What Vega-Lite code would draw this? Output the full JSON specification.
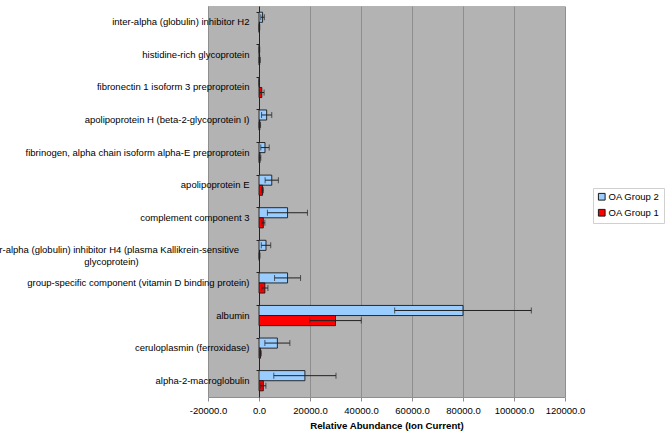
{
  "$schema": "https://vega.github.io/schema/vega-lite/v6.json",
  "width": 357,
  "height": 391,
  "autosize": {"type": "none"},
  "padding": {"left": 208, "top": 6, "right": 104, "bottom": 47},
  "background": "white",
  "config": {
    "font": "Liberation Sans",
    "view": {"fill": "#b3b3b3", "stroke": null},
    "axis": {"labelFont": "Liberation Sans", "titleFont": "Liberation Sans", "labelColor": "#000", "titleColor": "#000"}
  },
  "data": {
    "values": [
      {"protein": "inter-alpha (globulin) inhibitor H2", "group": "OA Group 2", "value": 1400, "lo": 700, "hi": 2100},
      {"protein": "inter-alpha (globulin) inhibitor H2", "group": "OA Group 1", "value": 100, "lo": 0, "hi": 300},
      {"protein": "histidine-rich glycoprotein", "group": "OA Group 2", "value": 150, "lo": 0, "hi": 300},
      {"protein": "histidine-rich glycoprotein", "group": "OA Group 1", "value": 250, "lo": 0, "hi": 500},
      {"protein": "fibronectin 1 isoform 3 preproprotein", "group": "OA Group 2", "value": 100, "lo": 0, "hi": 200},
      {"protein": "fibronectin 1 isoform 3 preproprotein", "group": "OA Group 1", "value": 1100, "lo": 300, "hi": 2000},
      {"protein": "apolipoprotein H (beta-2-glycoprotein I)", "group": "OA Group 2", "value": 3000, "lo": 1000, "hi": 5000},
      {"protein": "apolipoprotein H (beta-2-glycoprotein I)", "group": "OA Group 1", "value": 300, "lo": 0, "hi": 600},
      {"protein": "fibrinogen, alpha chain isoform alpha-E preproprotein", "group": "OA Group 2", "value": 2350, "lo": 700, "hi": 4000},
      {"protein": "fibrinogen, alpha chain isoform alpha-E preproprotein", "group": "OA Group 1", "value": 400, "lo": 100, "hi": 700},
      {"protein": "apolipoprotein E", "group": "OA Group 2", "value": 5000, "lo": 2400, "hi": 7600},
      {"protein": "apolipoprotein E", "group": "OA Group 1", "value": 1400, "lo": 1100, "hi": 1700},
      {"protein": "complement component 3", "group": "OA Group 2", "value": 11200, "lo": 3300, "hi": 19000},
      {"protein": "complement component 3", "group": "OA Group 1", "value": 1700, "lo": 1100, "hi": 2300},
      {"protein": "inter-alpha (globulin) inhibitor H4 (plasma Kallikrein-sensitive glycoprotein)", "group": "OA Group 2", "value": 2750, "lo": 900, "hi": 4600},
      {"protein": "inter-alpha (globulin) inhibitor H4 (plasma Kallikrein-sensitive glycoprotein)", "group": "OA Group 1", "value": 200, "lo": 0, "hi": 400},
      {"protein": "group-specific component (vitamin D binding protein)", "group": "OA Group 2", "value": 11200, "lo": 6100, "hi": 16300},
      {"protein": "group-specific component (vitamin D binding protein)", "group": "OA Group 1", "value": 2300, "lo": 1100, "hi": 3500},
      {"protein": "albumin", "group": "OA Group 2", "value": 80000, "lo": 53200, "hi": 106800},
      {"protein": "albumin", "group": "OA Group 1", "value": 30000, "lo": 19900, "hi": 40100},
      {"protein": "ceruloplasmin (ferroxidase)", "group": "OA Group 2", "value": 7200, "lo": 2300, "hi": 12100},
      {"protein": "ceruloplasmin (ferroxidase)", "group": "OA Group 1", "value": 600, "lo": 300, "hi": 900},
      {"protein": "alpha-2-macroglobulin", "group": "OA Group 2", "value": 18000, "lo": 5800, "hi": 30200},
      {"protein": "alpha-2-macroglobulin", "group": "OA Group 1", "value": 1700, "lo": 700, "hi": 2700}
    ]
  },
  "encoding": {
    "y": {
      "field": "protein",
      "type": "nominal",
      "sort": [
        "inter-alpha (globulin) inhibitor H2",
        "histidine-rich glycoprotein",
        "fibronectin 1 isoform 3 preproprotein",
        "apolipoprotein H (beta-2-glycoprotein I)",
        "fibrinogen, alpha chain isoform alpha-E preproprotein",
        "apolipoprotein E",
        "complement component 3",
        "inter-alpha (globulin) inhibitor H4 (plasma Kallikrein-sensitive glycoprotein)",
        "group-specific component (vitamin D binding protein)",
        "albumin",
        "ceruloplasmin (ferroxidase)",
        "alpha-2-macroglobulin"
      ],
      "scale": {"paddingInner": 0.38, "paddingOuter": 0.19},
      "axis": {
        "title": null,
        "offset": -51,
        "domainColor": "#222",
        "domainWidth": 1,
        "ticks": true,
        "bandPosition": 0,
        "tickSize": 3,
        "tickColor": "#222",
        "labelFontSize": 9.5,
        "labelLimit": 0,
        "labelOverlap": false,
        "labelAlign": {"condition": {"test": "indexof(datum.value, 'H4') >= 0", "value": "center"}, "value": "right"},
        "labelPadding": {"condition": {"test": "indexof(datum.value, 'H4') >= 0", "value": 145}, "value": 7},
        "labelLineHeight": 12,
        "labelExpr": "indexof(datum.value, 'H4') >= 0 ? ['inter-alpha (globulin) inhibitor H4 (plasma Kallikrein-sensitive', 'glycoprotein)'] : datum.label"
      }
    },
    "yOffset": {"field": "group", "type": "nominal", "sort": ["OA Group 2", "OA Group 1"], "scale": {"paddingInner": 0, "paddingOuter": 0}}
  },
  "layer": [
    {
      "mark": {"type": "bar", "stroke": "#1a1a1a", "strokeWidth": 0.9},
      "encoding": {
        "x": {
          "field": "value",
          "type": "quantitative",
          "scale": {"domain": [-20000, 120000], "nice": false, "zero": false},
          "axis": {
            "title": "Relative Abundance (Ion Current)",
            "titleFontSize": 9.7,
            "titleFontWeight": "bold",
            "titlePadding": 6,
            "values": [-20000, 0, 20000, 40000, 60000, 80000, 100000, 120000],
            "format": ".1f",
            "labelExpr": "replace(datum.label, '\u2212', '-')",
            "labelFontSize": 9.5,
            "labelPadding": 4,
            "labelFlush": false,
            "labelOverlap": false,
            "grid": true,
            "gridColor": "#8e8e8e",
            "gridWidth": 1,
            "domainColor": "#8e8e8e",
            "tickColor": "#8e8e8e",
            "tickSize": 4
          }
        },
        "color": {
          "field": "group",
          "type": "nominal",
          "scale": {"domain": ["OA Group 2", "OA Group 1"], "range": ["#99ccff", "#ff0000"]},
          "legend": {
            "title": null,
            "orient": "none",
            "legendX": 385,
            "legendY": 182,
            "symbolType": "square",
            "symbolSize": 45,
            "symbolStrokeColor": "#1a1a1a",
            "symbolStrokeWidth": 1,
            "labelFont": "Liberation Sans",
            "labelFontSize": 9.5,
            "labelColor": "#000",
            "labelOffset": 2,
            "rowPadding": 4,
            "padding": 4,
            "strokeColor": "#d0d0d0",
            "fillColor": "white"
          }
        }
      }
    },
    {
      "mark": {"type": "rule", "color": "#222", "strokeWidth": 1},
      "encoding": {"x": {"field": "lo", "type": "quantitative"}, "x2": {"field": "hi"}}
    },
    {
      "mark": {"type": "tick", "orient": "vertical", "thickness": 1, "size": 6, "color": "#222"},
      "encoding": {"x": {"field": "lo", "type": "quantitative"}}
    },
    {
      "mark": {"type": "tick", "orient": "vertical", "thickness": 1, "size": 6, "color": "#222"},
      "encoding": {"x": {"field": "hi", "type": "quantitative"}}
    }
  ]
}
